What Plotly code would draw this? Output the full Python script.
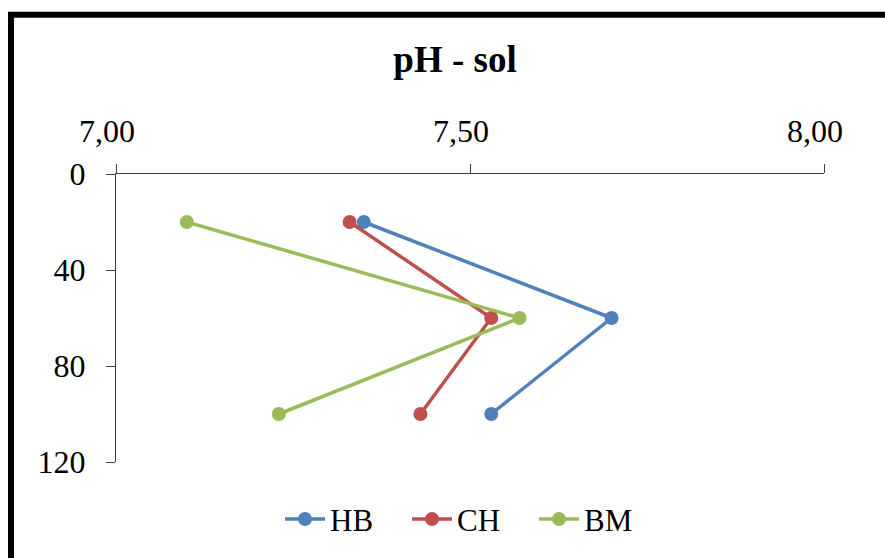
import plotly.graph_objects as go

# Soil depth (cm) and pH readings per site
depth = [20, 60, 100]
ph_hb = [7.35, 7.70, 7.53]
ph_ch = [7.33, 7.53, 7.43]
ph_bm = [7.10, 7.57, 7.23]

series = [
    ("HB", ph_hb, "#4F81BD"),
    ("CH", ph_ch, "#C0504D"),
    ("BM", ph_bm, "#9BBB59"),
]

x_ticks = [7.0, 7.5, 8.0]
y_ticks = [0, 40, 80, 120]

FONT = "Liberation Serif, Times New Roman, serif"

fig = go.Figure()
for name, vals, color in series:
    fig.add_trace(go.Scatter(
        x=vals, y=depth, name=name, mode="lines+markers",
        line=dict(color=color, width=3.5),
        marker=dict(color=color, size=14),
        cliponaxis=False,
    ))

W, H = 885, 558
L, R, T, B = 116, 61, 174, 93

fig.update_layout(
    width=W, height=H,
    margin=dict(l=L, r=R, t=T, b=B),
    paper_bgcolor="white", plot_bgcolor="white",
    separators=", ",
    font=dict(family=FONT, color="black", size=32),
    title=dict(text="<b>pH - sol</b>", x=455 / W, xanchor="center",
               y=1 - 59 / H, yanchor="middle",
               font=dict(family=FONT, size=37, color="black")),
    xaxis=dict(
        side="top", range=[7.0, 8.0], tickvals=x_ticks, tickformat=".2f",
        showgrid=False, zeroline=False, showline=True, linecolor="#404040",
        linewidth=1.3, ticks="outside", ticklen=9, tickcolor="#404040",
        tickfont=dict(family=FONT, size=32, color="black"),
        ticklabelstandoff=9, ticklabelshift=-9,
        anchor="y",
    ),
    yaxis=dict(
        range=[120, 0], tickvals=y_ticks, showgrid=False, zeroline=False,
        showline=True, linecolor="#404040", linewidth=1.3,
        ticks="outside", ticklen=9, tickcolor="#404040",
        tickfont=dict(family=FONT, size=32, color="black"),
        ticklabelstandoff=14,
    ),
    legend=dict(
        orientation="h", x=(280 - L) / (W - L - R), xanchor="left",
        y=(H - B - 523) / (H - T - B), yanchor="middle",
        font=dict(family=FONT, size=31, color="black"),
        bgcolor="rgba(0,0,0,0)", itemwidth=40,
        entrywidth=72, entrywidthmode="pixels",
    ),
    showlegend=True,
)

# Thick outer frame of the chart area
pw, ph = W - L - R, H - T - B
fig.add_shape(
    type="rect", xref="paper", yref="paper", layer="above",
    x0=(11 - L) / pw, x1=(W + 50 - L) / pw,
    y0=(H - B - (H + 50)) / ph, y1=(H - B - 13) / ph,
    line=dict(color="black", width=6), fillcolor="rgba(0,0,0,0)",
)

fig.write_html("out.html")
